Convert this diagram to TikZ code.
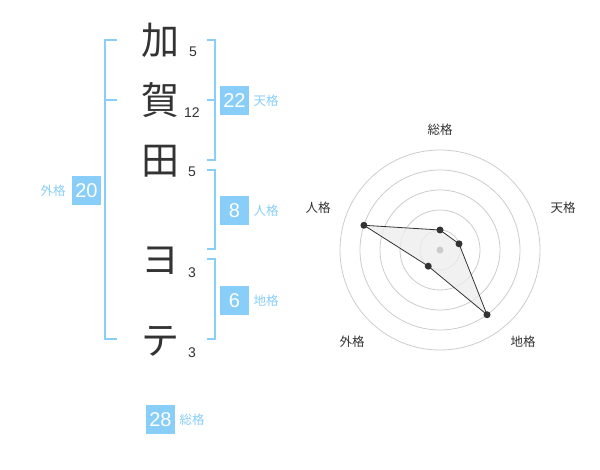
\documentclass[tikz,border=0pt]{standalone}
\usepackage{fontspec}
\setmainfont{Liberation Sans}
\newfontfamily\jpfont{Noto Sans CJK JP}
\definecolor{kakublue}{HTML}{88CEF8}
\definecolor{inkgray}{HTML}{333333}
\tikzset{
  bracketline/.style={kakublue, line width=1.8pt},
  kanji/.style={inner sep=0pt, text=inkgray, font=\jpfont\fontsize{38}{38}\selectfont},
  strokes/.style={inner sep=0pt, text=inkgray, font=\fontsize{14}{14}\selectfont},
  scorebox/.style={fill=kakublue, text=white, minimum size=29pt, inner sep=0pt, font=\fontsize{20}{20}\selectfont},
  scorelabel/.style={inner sep=0pt, text=kakublue, font=\jpfont\fontsize{12.5}{12.5}\selectfont},
  radarlabel/.style={inner sep=0pt, text=inkgray, font=\jpfont\fontsize{12.5}{12.5}\selectfont},
  ring/.style={draw=black!20, line width=0.8pt},
  vertex/.style={circle, fill=inkgray, minimum size=7pt, inner sep=0pt}
}
\begin{document}
\begin{tikzpicture}[x=1pt, y=-1pt]
\useasboundingbox (0,0) rectangle (600,470);
\def\cx{440}
\def\cy{250}
\def\nx{160}
\def\bx{215}

% name characters
\node[kanji] (ka) at (\nx, 40) {加};
\node[kanji] (ga) at (\nx, 100) {賀};
\node[kanji] (ta) at (\nx, 161) {田};
\node[kanji] (yo) at (\nx, 261) {ヨ};
\node[kanji] (te) at (\nx, 341) {テ};
\node[strokes] (ka5) at (\nx + 33, 52) {5};
\node[strokes] (ga12) at (\nx + 32, 113) {12};
\node[strokes] (ta5) at (\nx + 32, 172) {5};
\node[strokes] (yo3) at (\nx + 32, 273) {3};
\node[strokes] (te3) at (\nx + 32, 353) {3};

% brackets
\draw[bracketline] (117,40) -- (105,40) -- (105,339) -- (117,339); % outer
\draw[bracketline] (105,100) -- (117,100);
\draw[bracketline] (\bx - 8,40) -- (\bx,40) -- (\bx,160) -- (\bx - 8,160); % heaven
\draw[bracketline] (\bx - 8,100) -- (\bx,100);
\draw[bracketline] (\bx - 8,170) -- (\bx,170) -- (\bx,249) -- (\bx - 8,249); % person
\draw[bracketline] (\bx - 8,259) -- (\bx,259) -- (\bx,339) -- (\bx - 8,339); % earth

% scores
\node[scorebox] (ten) at (234.5, 100.5) {22};
\node[scorebox] (jin) at (234.5, 210.5) {8};
\node[scorebox] (chi) at (234.5, 300.5) {6};
\node[scorebox] (gai) at (86.5, 190.5) {20};
\node[scorebox] (sou) at (160.5, 419.5) {28};
\node[scorelabel] (tenl) at (266, 101) {天格};
\node[scorelabel] (jinl) at (266, 211) {人格};
\node[scorelabel] (chil) at (266, 301) {地格};
\node[scorelabel] (gail) at (53, 191) {外格};
\node[scorelabel] (soul) at (192, 420) {総格};

% radar
\begin{scope}[shift={(\cx,\cy)}, yscale=-1]
\foreach \r in {20,40,...,100}
  \draw[ring] (0,0) circle (\r);
\draw[inkgray, line width=0.8pt, fill=black!7, fill opacity=0.8]
  (90:20) coordinate (psou) -- (18:20) coordinate (pten) -- (-54:80) coordinate (pchi)
  -- (-126:20) coordinate (pgai) -- (162:80) coordinate (pjin) -- cycle;
\fill[black!20] (0,0) circle (3.5);
\foreach \p in {psou,pten,pchi,pgai,pjin}
  \node[vertex] at (\p) {};
\end{scope}
\node[radarlabel] (rsou) at (440, 130) {総格};
\node[radarlabel] (rten) at (563, 208) {天格};
\node[radarlabel] (rchi) at (523, 342) {地格};
\node[radarlabel] (rgai) at (352, 342) {外格};
\node[radarlabel] (rjin) at (318, 208) {人格};
\end{tikzpicture}
\end{document}
